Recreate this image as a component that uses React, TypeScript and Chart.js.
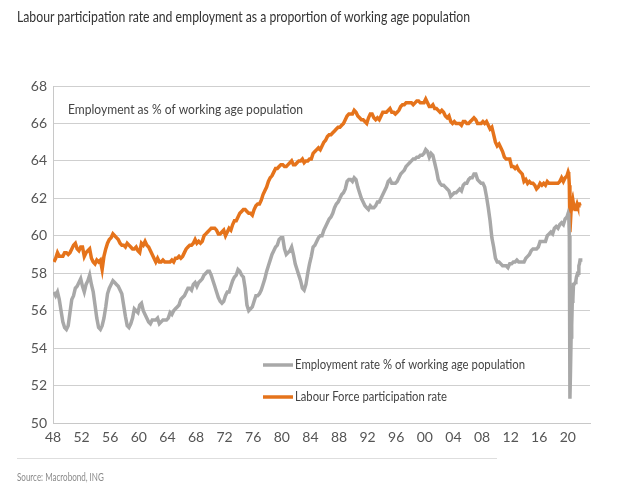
import React, { useEffect, useLayoutEffect, useRef } from "react";
import { Chart, registerables } from "chart.js";

Chart.register(...registerables);

// Quarterly values 1948Q1..2019Q4, then monthly 2020-01..2021-10
const START_YEAR = 1948;

const employmentQuarterly: number[] = [
  57.0, 56.8, 57.0, 56.6, // 1948
  56.0, 55.4, 55.1, 55.0, // 1949
  55.2, 55.9, 56.6, 56.8, // 1950
  57.2, 57.3, 57.5, 57.7, // 1951
  57.3, 57.0, 57.4, 57.6, // 1952
  57.9, 57.4, 57.0, 56.3, // 1953
  55.6, 55.1, 55.0, 55.2, // 1954
  55.6, 56.2, 56.9, 57.2, // 1955
  57.4, 57.6, 57.5, 57.4, // 1956
  57.3, 57.1, 56.9, 56.3, // 1957
  55.7, 55.2, 55.1, 55.3, // 1958
  55.6, 56.1, 56.0, 55.9, // 1959
  56.3, 56.4, 56.0, 55.8, // 1960
  55.6, 55.4, 55.3, 55.5, // 1961
  55.5, 55.5, 55.6, 55.3, // 1962
  55.4, 55.5, 55.5, 55.5, // 1963
  55.6, 55.9, 55.8, 56.0, // 1964
  56.1, 56.2, 56.3, 56.6, // 1965
  56.7, 56.8, 57.0, 57.2, // 1966
  57.2, 57.1, 57.4, 57.5, // 1967
  57.3, 57.5, 57.6, 57.7, // 1968
  57.9, 58.0, 58.1, 58.1, // 1969
  57.9, 57.6, 57.3, 57.0, // 1970
  56.7, 56.5, 56.4, 56.5, // 1971
  56.8, 57.0, 57.0, 57.3, // 1972
  57.6, 57.8, 57.9, 58.2, // 1973
  58.1, 57.9, 57.8, 57.2, // 1974
  56.3, 56.0, 56.1, 56.2, // 1975
  56.5, 56.8, 56.8, 56.9, // 1976
  57.1, 57.4, 57.7, 58.1, // 1977
  58.4, 58.7, 59.0, 59.2, // 1978
  59.4, 59.5, 59.8, 59.9, // 1979
  59.9, 59.3, 59.0, 59.1, // 1980
  59.2, 59.4, 59.0, 58.5, // 1981
  58.2, 57.9, 57.6, 57.2, // 1982
  57.1, 57.4, 58.0, 58.5, // 1983
  58.9, 59.4, 59.5, 59.7, // 1984
  59.9, 60.0, 60.0, 60.3, // 1985
  60.5, 60.7, 60.9, 61.0, // 1986
  61.2, 61.5, 61.7, 61.8, // 1987
  62.0, 62.2, 62.3, 62.5, // 1988
  62.9, 63.0, 63.0, 62.9, // 1989
  63.1, 63.0, 62.6, 62.3, // 1990
  62.0, 61.8, 61.6, 61.5, // 1991
  61.4, 61.6, 61.5, 61.5, // 1992
  61.6, 61.8, 61.8, 62.0, // 1993
  62.2, 62.4, 62.6, 62.9, // 1994
  63.0, 62.8, 62.8, 62.8, // 1995
  62.9, 63.1, 63.3, 63.4, // 1996
  63.5, 63.7, 63.8, 63.9, // 1997
  64.0, 64.1, 64.1, 64.2, // 1998
  64.2, 64.3, 64.3, 64.4, // 1999
  64.6, 64.5, 64.2, 64.4, // 2000
  64.3, 63.9, 63.5, 63.0, // 2001
  62.8, 62.7, 62.7, 62.6, // 2002
  62.5, 62.4, 62.1, 62.2, // 2003
  62.3, 62.3, 62.4, 62.5, // 2004
  62.4, 62.7, 62.8, 62.8, // 2005
  63.0, 63.1, 63.1, 63.3, // 2006
  63.3, 63.0, 62.9, 62.8, // 2007
  62.8, 62.6, 62.1, 61.5, // 2008
  60.8, 59.9, 59.4, 58.8, // 2009
  58.6, 58.6, 58.5, 58.4, // 2010
  58.4, 58.4, 58.3, 58.5, // 2011
  58.5, 58.6, 58.6, 58.7, // 2012
  58.6, 58.6, 58.6, 58.6, // 2013
  58.8, 58.9, 59.0, 59.2, // 2014
  59.3, 59.3, 59.3, 59.4, // 2015
  59.7, 59.7, 59.7, 59.7, // 2016
  60.0, 60.1, 60.2, 60.1, // 2017
  60.4, 60.5, 60.4, 60.6, // 2018
  60.7, 60.6, 60.9, 61.0, // 2019
];

const employmentMonthly: number[] = [
  61.2, 61.1, 60.0, 51.3, 52.8, 54.6, 55.2, 56.5, 56.6, 57.4, 57.4, 57.4, // 2020
  57.5, 57.6, 57.8, 57.9, 58.0, 58.0, 58.4, 58.5, 58.7, 58.8, // 2021
];

const participationQuarterly: number[] = [
  58.6, 58.8, 59.1, 58.9, // 1948
  58.9, 58.9, 59.1, 59.1, // 1949
  59.0, 59.1, 59.3, 59.5, // 1950
  59.6, 59.3, 59.2, 59.4, // 1951
  59.4, 58.9, 59.1, 59.2, // 1952
  59.3, 58.8, 58.6, 58.5, // 1953
  58.7, 58.6, 58.7, 58.2, // 1954
  58.9, 59.3, 59.6, 59.8, // 1955
  59.9, 60.1, 60.0, 59.9, // 1956
  59.8, 59.6, 59.5, 59.5, // 1957
  59.4, 59.6, 59.5, 59.4, // 1958
  59.3, 59.3, 59.4, 59.2, // 1959
  59.1, 59.6, 59.5, 59.7, // 1960
  59.5, 59.4, 59.2, 59.0, // 1961
  58.8, 58.6, 58.8, 58.6, // 1962
  58.6, 58.7, 58.6, 58.6, // 1963
  58.6, 58.6, 58.7, 58.6, // 1964
  58.8, 58.8, 58.9, 58.8, // 1965
  58.9, 59.1, 59.3, 59.4, // 1966
  59.5, 59.5, 59.6, 59.8, // 1967
  59.6, 59.7, 59.6, 59.7, // 1968
  60.0, 60.1, 60.2, 60.3, // 1969
  60.4, 60.4, 60.4, 60.3, // 1970
  60.1, 60.1, 60.2, 60.3, // 1971
  60.0, 60.2, 60.4, 60.3, // 1972
  60.6, 60.8, 60.8, 61.0, // 1973
  61.2, 61.3, 61.4, 61.4, // 1974
  61.3, 61.2, 61.2, 61.1, // 1975
  61.4, 61.6, 61.7, 61.7, // 1976
  61.9, 62.2, 62.4, 62.6, // 1977
  62.9, 63.1, 63.2, 63.4, // 1978
  63.6, 63.6, 63.7, 63.8, // 1979
  63.8, 63.7, 63.7, 63.8, // 1980
  63.9, 64.0, 63.8, 63.8, // 1981
  63.9, 64.0, 64.0, 64.1, // 1982
  63.9, 64.0, 64.0, 64.1, // 1983
  64.1, 64.4, 64.5, 64.6, // 1984
  64.7, 64.6, 64.8, 65.0, // 1985
  65.1, 65.3, 65.4, 65.4, // 1986
  65.5, 65.6, 65.7, 65.8, // 1987
  65.8, 65.9, 66.0, 66.2, // 1988
  66.4, 66.5, 66.5, 66.5, // 1989
  66.7, 66.6, 66.4, 66.3, // 1990
  66.2, 66.2, 66.1, 66.0, // 1991
  66.3, 66.5, 66.5, 66.3, // 1992
  66.2, 66.3, 66.2, 66.4, // 1993
  66.6, 66.6, 66.6, 66.7, // 1994
  66.8, 66.6, 66.6, 66.5, // 1995
  66.6, 66.7, 66.9, 67.0, // 1996
  67.0, 67.1, 67.1, 67.1, // 1997
  67.1, 67.0, 67.1, 67.2, // 1998
  67.2, 67.1, 67.1, 67.1, // 1999
  67.3, 67.1, 66.9, 66.9, // 2000
  67.0, 66.8, 66.8, 66.7, // 2001
  66.6, 66.7, 66.6, 66.4, // 2002
  66.3, 66.4, 66.1, 66.0, // 2003
  66.1, 66.0, 66.0, 66.0, // 2004
  65.9, 66.1, 66.1, 66.0, // 2005
  66.0, 66.1, 66.2, 66.3, // 2006
  66.2, 66.0, 66.0, 66.0, // 2007
  66.1, 66.0, 66.1, 65.9, // 2008
  65.7, 65.8, 65.4, 65.0, // 2009
  64.8, 64.9, 64.7, 64.5, // 2010
  64.2, 64.1, 64.1, 64.1, // 2011
  63.7, 63.7, 63.6, 63.7, // 2012
  63.5, 63.4, 63.3, 62.9, // 2013
  63.0, 62.8, 62.9, 62.8, // 2014
  62.8, 62.7, 62.5, 62.6, // 2015
  62.8, 62.7, 62.8, 62.7, // 2016
  62.9, 62.8, 62.8, 62.8, // 2017
  62.8, 62.8, 62.8, 62.9, // 2018
  63.1, 62.9, 63.1, 63.2, // 2019
];

const participationMonthly: number[] = [
  63.4, 63.3, 62.7, 60.2, 60.8, 61.4, 61.5, 61.7, 61.4, 61.7, 61.5, 61.5, // 2020
  61.4, 61.5, 61.6, 61.7, 61.6, 61.6, 61.7, 61.7, 61.6, 61.6, // 2021
];

const TITLE = "Labour participation rate and employment as a proportion of working age population";
const ANNOTATION = "Employment as % of working age population";
const SERIES_NAMES = ["Employment rate % of working age population", "Labour Force participation rate"];
const SOURCE = "Source: Macrobond, ING";
const Y_MIN = 50;
const Y_MAX = 68;
const Y_STEP = 2;
const X_MIN = 1948;
const X_MAX = 2023.1;
const X_LAST_TICK = 2020;
const X_STEP = 4;

const GRAY = "#a8a8a8";
const ORANGE = "#e5731b";

function toPoints(quarterly: number[], monthly: number[]) {
  const pts: { x: number; y: number }[] = [];
  quarterly.forEach((v, i) => pts.push({ x: START_YEAR + i * 0.25 + 0.125, y: v }));
  monthly.forEach((v, i) => pts.push({ x: 2020 + i / 12 + 1 / 24, y: v }));
  return pts;
}

const FONT = "Lato, 'Open Sans', sans-serif";

const overlayPlugin = {
  id: "overlay",
  afterDatasetsDraw(chart: any) {
    const { ctx, chartArea } = chart;
    ctx.save();
    ctx.fillStyle = "#444";
    ctx.font = `13px ${FONT}`;
    ctx.textBaseline = "middle";
    ctx.textAlign = "left";
    ctx.fillText(ANNOTATION, chartArea.left + 15, chartArea.top + 24, 235);
    // legend
    const items = [
      { color: GRAY, label: SERIES_NAMES[0], y: chartArea.top + 279, w: 230 },
      { color: ORANGE, label: SERIES_NAMES[1], y: chartArea.top + 311, w: 152 },
    ];
    items.forEach((it) => {
      ctx.strokeStyle = it.color;
      ctx.lineWidth = 3.5;
      ctx.beginPath();
      ctx.moveTo(chartArea.left + 210, it.y);
      ctx.lineTo(chartArea.left + 240, it.y);
      ctx.stroke();
      ctx.fillStyle = "#444";
      ctx.fillText(it.label, chartArea.left + 242, it.y, it.w);
    });
    ctx.restore();
  },
};

function ChartView() {
  const ref = useRef<HTMLCanvasElement | null>(null);
  useEffect(() => {
    if (!ref.current) return;
    const chart = new Chart(ref.current, {
      type: "line",
      data: {
        datasets: [
          {
            label: SERIES_NAMES[0],
            data: toPoints(employmentQuarterly, employmentMonthly),
            borderColor: GRAY,
            borderWidth: 3.5,
            pointRadius: 0,
            tension: 0,
          },
          {
            label: SERIES_NAMES[1],
            data: toPoints(participationQuarterly, participationMonthly),
            borderColor: ORANGE,
            borderWidth: 3.5,
            pointRadius: 0,
            tension: 0,
          },
        ],
      },
      options: {
        animation: false,
        responsive: false,
        maintainAspectRatio: false,
        layout: { padding: { top: 86, right: 40, bottom: 44, left: 0 } },
        plugins: {
          legend: { display: false },
          tooltip: { enabled: false },
          title: { display: false },
        },
        scales: {
          x: {
            type: "linear",
            min: X_MIN,
            max: X_MAX,
            afterBuildTicks: (scale: any) => {
              const t: { value: number }[] = [];
              for (let v = X_MIN; v <= X_LAST_TICK; v += X_STEP) t.push({ value: v });
              scale.ticks = t;
            },
            afterFit: (scale: any) => {
              scale.height = 30;
            },
            ticks: {
              autoSkip: false,
              maxRotation: 0,
              color: "#555",
              font: { family: FONT, size: 14 },
              padding: 6,
              callback: (v: any) => String(Number(v) % 100).padStart(2, "0"),
            },
            grid: { display: false, drawTicks: false },
            border: { display: true, color: "#c8c8c8", width: 1 },
          },
          y: {
            min: Y_MIN,
            max: Y_MAX,
            afterFit: (scale: any) => {
              scale.width = 53;
            },
            ticks: {
              stepSize: Y_STEP,
              color: "#555",
              font: { family: FONT, size: 14 },
              padding: 6,
            },
            grid: { color: "#cfcfcf", lineWidth: 1, drawTicks: false },
            border: { display: true, color: "#c8c8c8", width: 1 },
          },
        },
      },
      plugins: [overlayPlugin],
    });
    return () => chart.destroy();
  }, []);
  return <canvas ref={ref} width={630} height={497} style={{ position: "absolute", left: 0, top: 0 }} />;
}

function FitText({ text, width, style }: { text: string; width: number; style: React.CSSProperties }) {
  const ref = useRef<HTMLDivElement | null>(null);
  useLayoutEffect(() => {
    const el = ref.current;
    if (!el) return;
    el.style.transform = "none";
    const w = el.scrollWidth;
    if (w > 0) el.style.transform = `scaleX(${width / w})`;
  }, [text, width]);
  return (
    <div ref={ref} style={{ ...style, whiteSpace: "nowrap", transformOrigin: "0 0" }}>
      {text}
    </div>
  );
}

export default function App() {
  return (
    <div style={{ position: "absolute", left: 0, top: 0, width: 630, height: 497, background: "#fff", overflow: "hidden" }}>
      <ChartView />
      <FitText
        text={TITLE}
        width={453}
        style={{
          position: "absolute",
          left: 17,
          top: 7,
          fontFamily: FONT,
          fontSize: 15,
          color: "#333",
          lineHeight: "18px",
        }}
      />
      <div style={{ position: "absolute", left: 17, top: 458, width: 480, height: 1, background: "#dedede" }} />
      <FitText
        text={SOURCE}
        width={87}
        style={{
          position: "absolute",
          left: 17,
          top: 469,
          fontFamily: FONT,
          fontSize: 12,
          color: "#8a8a8a",
          lineHeight: "16px",
        }}
      />
    </div>
  );
}
